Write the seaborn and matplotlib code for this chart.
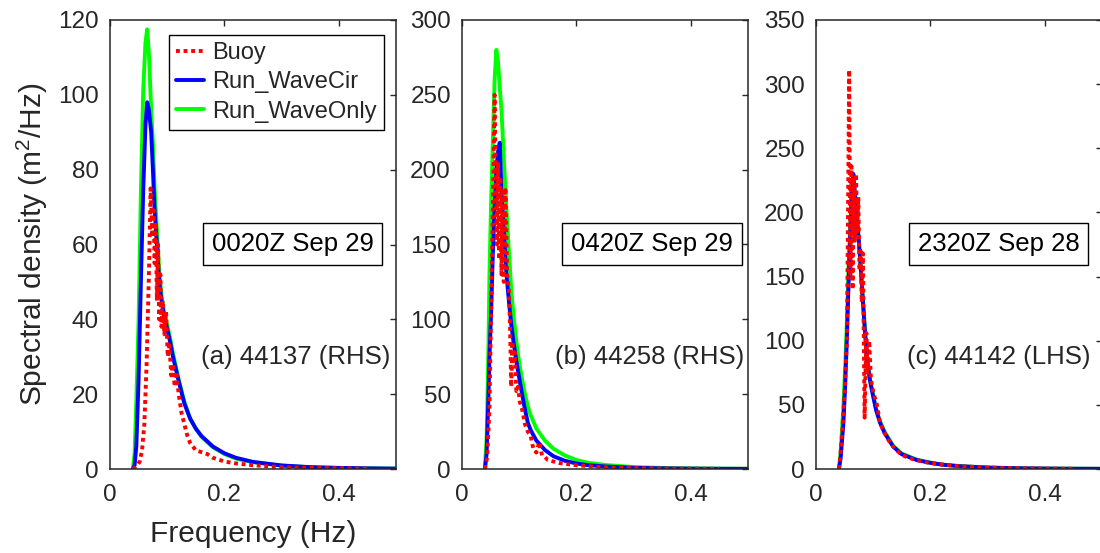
import matplotlib
matplotlib.use("Agg")
import matplotlib.pyplot as plt
from matplotlib.lines import Line2D
import pandas as pd
import seaborn as sns

# ---------------- data ----------------
# Panel (a) 44137
buoy_f_a = [0.040, 0.044, 0.048, 0.052, 0.056, 0.060, 0.064, 0.068, 0.071, 0.074, 0.076,
            0.078, 0.080, 0.082, 0.084, 0.086, 0.088, 0.090, 0.092, 0.095, 0.098, 0.101,
            0.104, 0.107, 0.110, 0.113, 0.116, 0.120, 0.125, 0.130, 0.135, 0.140, 0.150,
            0.160, 0.170, 0.180, 0.200, 0.220, 0.250, 0.300, 0.350, 0.400, 0.450]
buoy_s_a = [0, 0.5, 1, 2, 5, 12, 28, 52, 75, 62, 70,
            55, 66, 45, 60, 40, 52, 38, 45, 36, 42, 30,
            33, 25, 28, 22, 26, 20, 15, 12, 9, 7, 5,
            4.5, 4, 3, 2, 1.5, 1, 0.5, 0.3, 0.2, 0.1]
model_f_a = [0.040, 0.043, 0.046, 0.050, 0.054, 0.058, 0.062, 0.065, 0.068, 0.072, 0.075,
             0.078, 0.082, 0.086, 0.090, 0.095, 0.100, 0.105, 0.110, 0.115, 0.120, 0.130,
             0.140, 0.150, 0.160, 0.180, 0.200, 0.220, 0.250, 0.300, 0.350, 0.400, 0.450, 0.500]
wavecir_a = [0, 1, 6, 24, 50, 74, 92, 98, 96, 90, 80,
             69, 60, 50, 45, 40.5, 37.5, 34, 30, 26.8, 23.5, 17.5,
             13.5, 10.8, 8.8, 6, 4.2, 3, 1.9, 0.95, 0.5, 0.3, 0.18, 0.1]
waveonly_a = [0, 4, 18, 40, 74, 101, 114, 117.5, 111, 96, 87,
              75, 64, 53, 46.5, 41.5, 38.5, 35, 31, 27.5, 24, 18,
              13.5, 10.8, 8.6, 5.8, 4.0, 2.8, 1.8, 0.9, 0.45, 0.28, 0.17, 0.1]

# Panel (b) 44258
buoy_f_b = [0.040, 0.044, 0.048, 0.051, 0.054, 0.057, 0.059, 0.061, 0.063, 0.065, 0.067,
            0.069, 0.071, 0.073, 0.076, 0.079, 0.082, 0.084, 0.086, 0.088, 0.090, 0.092,
            0.095, 0.098, 0.101, 0.105, 0.110, 0.115, 0.120, 0.125, 0.130, 0.135, 0.140,
            0.145, 0.150, 0.160, 0.170, 0.180, 0.200, 0.250, 0.300, 0.350, 0.400, 0.450]
buoy_s_b = [0, 8, 40, 110, 175, 250, 190, 150, 205, 140, 195,
            130, 185, 125, 188, 130, 120, 95, 55, 85, 70, 78,
            52, 55, 45, 40, 30, 25, 22, 13, 11, 18, 9,
            8, 6, 5, 4, 3.5, 2.5, 1.2, 0.6, 0.3, 0.2, 0.1]
model_f_b = [0.040, 0.043, 0.046, 0.048, 0.051, 0.054, 0.057, 0.060, 0.063, 0.066, 0.069,
             0.073, 0.0775, 0.082, 0.086, 0.090, 0.095, 0.100, 0.105, 0.110, 0.115, 0.120,
             0.130, 0.145, 0.160, 0.180, 0.200, 0.220, 0.250, 0.300, 0.350, 0.400, 0.450, 0.500]
wavecir_b = [0, 10, 45, 75, 106, 145, 175, 200, 212, 218, 185,
             160, 131, 112, 97, 85, 72, 61, 50, 40, 31, 26,
             19, 12.7, 8.5, 5.5, 3.7, 2.6, 1.7, 0.8, 0.45, 0.25, 0.15, 0.1]
waveonly_b = [0, 20, 75, 130, 180, 220, 260, 280, 272, 255, 240,
              208, 175, 145, 120, 103, 85, 71, 60, 50, 42, 36,
              27, 19, 13.5, 9, 6, 4.2, 2.7, 1.3, 0.7, 0.4, 0.25, 0.15]

# Panel (c) 44142
buoy_f_c = [0.040, 0.042, 0.046, 0.050, 0.054, 0.056, 0.058, 0.060, 0.062, 0.064, 0.066,
            0.068, 0.070, 0.072, 0.074, 0.076, 0.078, 0.080, 0.082, 0.085, 0.088, 0.090,
            0.093, 0.096, 0.100, 0.106, 0.112, 0.120, 0.130, 0.140, 0.150, 0.160, 0.175,
            0.200, 0.250, 0.300, 0.350, 0.400, 0.450]
buoy_s_c = [0, 8, 30, 60, 100, 200, 311, 150, 236, 140, 225,
            178, 230, 185, 212, 155, 170, 130, 168, 40, 106, 75,
            100, 70, 60, 51, 36, 28, 20, 15, 11, 9, 7,
            4.5, 2.2, 1.1, 0.6, 0.35, 0.2]
model_f_c = [0.040, 0.043, 0.046, 0.048, 0.051, 0.054, 0.057, 0.0594, 0.062, 0.0653, 0.068,
             0.0711, 0.077, 0.0827, 0.0886, 0.094, 0.0974, 0.105, 0.112, 0.120, 0.135, 0.150,
             0.176, 0.200, 0.220, 0.250, 0.300, 0.350, 0.400, 0.450, 0.500]
wavecir_c = [0, 8, 25, 36, 65, 102, 145, 178, 210, 230, 215,
             199, 165, 126, 88, 70, 62, 46, 36, 28, 17.4, 11.5,
             7, 4.8, 3.4, 2.2, 1.1, 0.6, 0.35, 0.22, 0.15]
waveonly_c = [0, 12, 35, 50, 80, 115, 158, 185, 212, 226, 213,
              198, 165, 127, 89, 71, 63, 47, 37, 29, 18, 12,
              7.3, 5, 3.5, 2.3, 1.15, 0.62, 0.36, 0.23, 0.15]

y_ticks_a = [0, 20, 40, 60, 80, 100, 120]
y_ticks_b = [0, 50, 100, 150, 200, 250, 300]
y_ticks_c = [0, 50, 100, 150, 200, 250, 300, 350]
x_ticks = [0, 0.2, 0.4]
x_tick_labels = ["0", "0.2", "0.4"]

time_labels = ["0020Z Sep 29", "0420Z Sep 29", "2320Z Sep 28"]
station_labels = ["(a) 44137 (RHS)", "(b) 44258 (RHS)", "(c) 44142 (LHS)"]
series_names = ["Buoy", "Run_WaveCir", "Run_WaveOnly"]

# ---------------- style ----------------
sns.set_style("white")
plt.rcParams["font.family"] = ["Liberation Sans", "DejaVu Sans"]
plt.rcParams["mathtext.fontset"] = "custom"
plt.rcParams["mathtext.rm"] = "Liberation Sans"
plt.rcParams["mathtext.it"] = "Liberation Sans:italic"

DARK = "#262626"
C_BUOY, C_CIR, C_ONLY = "#ff0000", "#0000ff", "#00ff00"
LW = 2.8
DOT = (0, (1, 0.95))

fig = plt.figure(figsize=(11, 5.53), dpi=100)
H = 449 / 553
B = 84 / 553
W = 286 / 1100
lefts = [110 / 1100, 462 / 1100, 816 / 1100]
axes = [fig.add_axes([l, B, W, H]) for l in lefts]

panels = [
    (buoy_f_a, buoy_s_a, model_f_a, wavecir_a, waveonly_a, y_ticks_a),
    (buoy_f_b, buoy_s_b, model_f_b, wavecir_b, waveonly_b, y_ticks_b),
    (buoy_f_c, buoy_s_c, model_f_c, wavecir_c, waveonly_c, y_ticks_c),
]
box_x = [0.638, 0.663, 0.638]
lab_x = [0.650, 0.657, 0.638]

for i, (ax, (bf, bs, mf, cir, only, yt)) in enumerate(zip(axes, panels)):
    dm = pd.DataFrame({"f": mf, "cir": cir, "only": only})
    db = pd.DataFrame({"f": bf, "s": bs})
    sns.lineplot(data=dm, x="f", y="only", ax=ax, color=C_ONLY, lw=LW,
                 estimator=None, sort=False)
    sns.lineplot(data=dm, x="f", y="cir", ax=ax, color=C_CIR, lw=LW,
                 estimator=None, sort=False)
    sns.lineplot(data=db, x="f", y="s", ax=ax, color=C_BUOY, lw=LW,
                 linestyle=DOT, estimator=None, sort=False)

    ax.set_xlim(0, 0.5)
    ax.set_ylim(yt[0], yt[-1])
    ax.set_xticks(x_ticks)
    ax.set_xticklabels(x_tick_labels)
    ax.set_yticks(yt)
    ax.set_xlabel("")
    ax.set_ylabel("")
    ax.tick_params(direction="in", top=True, right=True, length=4, width=1,
                   color=DARK, labelcolor=DARK, labelsize=17.5)
    ax.tick_params(axis="y", pad=8)
    ax.tick_params(axis="x", pad=11)
    for s in ax.spines.values():
        s.set_visible(True)
        s.set_color(DARK)
        s.set_linewidth(1.1)

    ax.text(box_x[i], 0.501, time_labels[i], transform=ax.transAxes,
            ha="center", va="center", fontsize=18.5, color="black",
            bbox=dict(boxstyle="square,pad=0.35", fc="white", ec="black", lw=1.0))
    ax.text(lab_x[i], 0.249, station_labels[i], transform=ax.transAxes,
            ha="center", va="center", fontsize=18.5, color=DARK)

axes[0].set_xlabel("Frequency (Hz)", fontsize=21.5, color=DARK, labelpad=10)
axes[0].set_ylabel("Spectral density (m$^2$/Hz)", fontsize=21.5, color=DARK, labelpad=6)

handles = [Line2D([], [], color=C_BUOY, lw=LW, linestyle=DOT),
           Line2D([], [], color=C_CIR, lw=LW),
           Line2D([], [], color=C_ONLY, lw=LW)]
leg = axes[0].legend(handles, series_names, loc="upper right",
                     bbox_to_anchor=(0.958, 0.967), borderaxespad=0,
                     fontsize=17, frameon=True, fancybox=False,
                     handlelength=1.15, handletextpad=0.35, labelspacing=0.3,
                     borderpad=0.32)
leg.get_frame().set_edgecolor("black")
leg.get_frame().set_linewidth(1.0)
leg.get_frame().set_alpha(1)
for t in leg.get_texts():
    t.set_color(DARK)

fig.savefig("out.png", dpi=100)
